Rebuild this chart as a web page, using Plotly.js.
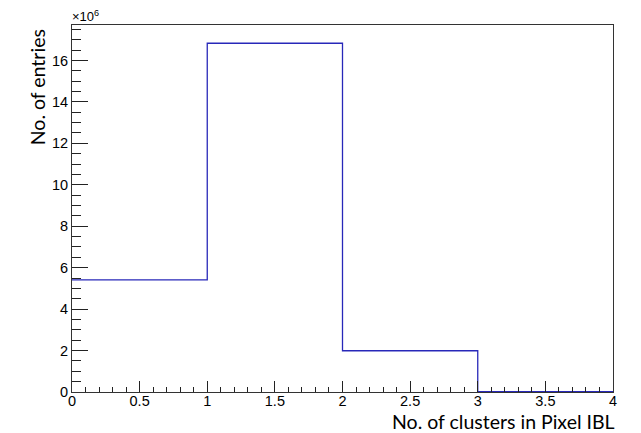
<!DOCTYPE html>
<html>
<head>
<meta charset="utf-8">
<script src="https://cdn.plot.ly/plotly-3.0.1.min.js"></script>
<style>html,body{margin:0;padding:0;background:#fff;}#chart{width:641px;height:433px;}</style>
</head>
<body>
<div id="chart"></div>
<script>
// Bin edges (no. of clusters in Pixel IBL) and bin contents (entries)
var binEdges = [0, 1, 2, 3, 4];
var binCounts = [5410000, 16830000, 1990000, 20000];
var xTickVals = [0, 0.5, 1, 1.5, 2, 2.5, 3, 3.5, 4];
var xTickText = ["0", "0.5", "1", "1.5", "2", "2.5", "3", "3.5", "4"];
var yTickVals = [0, 2, 4, 6, 8, 10, 12, 14, 16];
var yTickText = ["0", "2", "4", "6", "8", "10", "12", "14", "16"];
var xTitle = "No. of clusters in Pixel IBL";
var yTitle = "No. of entries";
var yScaleLabel = "\u00d710<sup>6</sup>";

var scale = 1e6;
var stepX = binEdges.slice();
var stepY = binCounts.map(function (c) { return c / scale; });
stepY.push(stepY[stepY.length - 1]);

var trace = {
  x: stepX,
  y: stepY,
  type: 'scatter',
  mode: 'lines',
  line: {shape: 'hv', color: 'rgb(40,40,185)', width: 1.3},
  hoverinfo: 'skip',
  showlegend: false
};

var tickFont = {family: 'Liberation Sans, Arial, sans-serif', size: 14.5, color: '#000'};
var titleFont = {family: 'Lato, Open Sans, sans-serif', size: 19.5, color: '#000'};

var layout = {
  width: 641,
  height: 433,
  margin: {l: 72, r: 28, t: 25, b: 40.5, pad: 0},
  paper_bgcolor: '#fff',
  plot_bgcolor: '#fff',
  showlegend: false,
  xaxis: {
    range: [0, 4],
    tickvals: xTickVals,
    ticktext: xTickText,
    ticks: 'inside',
    ticklen: 11,
    tickwidth: 1,
    tickcolor: '#222',
    tickfont: tickFont,
    ticklabelstandoff: -4,
    showgrid: false,
    zeroline: false,
    showline: true,
    linecolor: '#333',
    linewidth: 1,
    mirror: true,
    minor: {dtick: 0.1, ticks: 'inside', ticklen: 5.5, tickcolor: '#222', tickwidth: 1, showgrid: false},
    fixedrange: true
  },
  yaxis: {
    range: [0, 17.71],
    tickvals: yTickVals,
    ticktext: yTickText,
    ticks: 'inside',
    ticklen: 16,
    tickwidth: 1,
    tickcolor: '#222',
    tickfont: tickFont,
    showgrid: false,
    zeroline: false,
    showline: true,
    linecolor: '#333',
    linewidth: 1,
    mirror: true,
    minor: {dtick: 0.5, ticks: 'inside', ticklen: 8.5, tickcolor: '#222', tickwidth: 1, showgrid: false},
    fixedrange: true
  },
  annotations: [
    {
      text: xTitle, xref: 'paper', yref: 'paper',
      x: 1, y: -0.044, xanchor: 'right', yanchor: 'top', xshift: 4,
      showarrow: false, font: titleFont
    },
    {
      text: yTitle, xref: 'paper', yref: 'paper',
      x: -0.064, y: 0.995, xanchor: 'center', yanchor: 'top',
      textangle: -90, showarrow: false, font: titleFont
    },
    {
      text: yScaleLabel, xref: 'paper', yref: 'paper',
      x: 0, y: 0.998, xanchor: 'left', yanchor: 'bottom', xshift: -2,
      showarrow: false, font: {family: 'Liberation Sans, Arial, sans-serif', size: 13, color: '#000'}
    }
  ]
};

Plotly.newPlot('chart', [trace], layout, {displayModeBar: false, staticPlot: true});
</script>
</body>
</html>
